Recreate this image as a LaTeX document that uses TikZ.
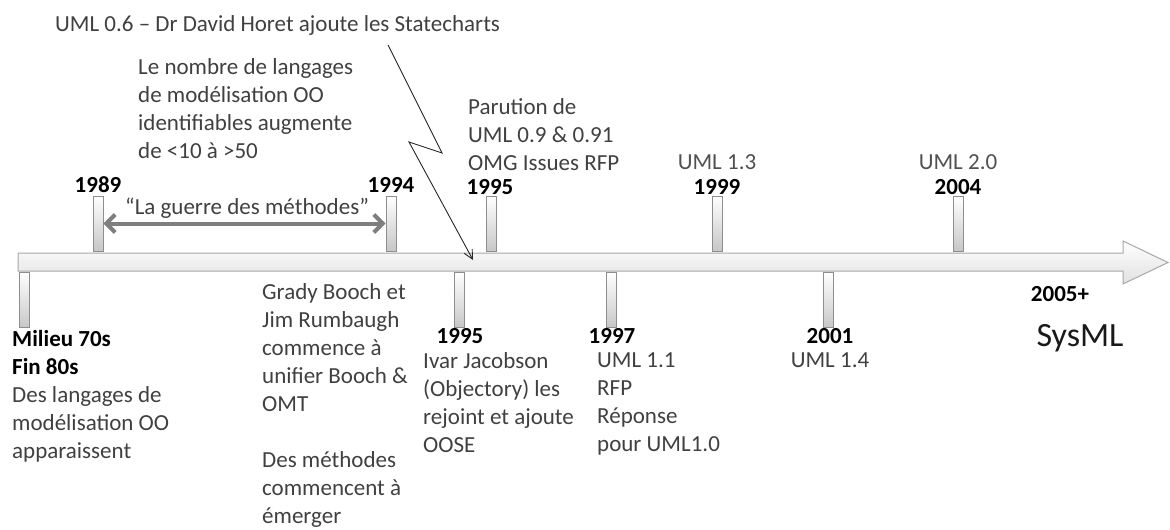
\documentclass[tikz,border=0pt]{standalone}
\usepackage{fontspec}
\setmainfont{Carlito}
\usetikzlibrary{arrows.meta}
\definecolor{txt}{HTML}{404040}
\definecolor{txtl}{HTML}{505050}
\definecolor{arrgray}{HTML}{7F7F7F}
\definecolor{edgegray}{HTML}{A8A8A8}
\definecolor{markedge}{HTML}{8E8E8E}
\begin{document}
\begin{tikzpicture}[x=1pt,y=-1pt,
  marker/.style={draw=markedge, line width=0.8pt, top color=white, bottom color=black!22,
    minimum width=10pt, minimum height=55pt, inner sep=0pt},
  body/.style={font=\fontsize{23}{28}\selectfont, text=txt, inner sep=0pt, align=left, anchor=north west},
  line1/.style={font=\fontsize{23}{28}\selectfont, text=txt, inner sep=0pt, anchor=base},
  yearlbl/.style={font=\fontsize{23}{28}\selectfont\bfseries, text=black, inner sep=0pt, anchor=base},
  warrow/.style={draw=arrgray, line width=4pt, {Straight Barb[length=9pt,width=18pt]}-{Straight Barb[length=9pt,width=18pt]}},
  zarrow/.style={draw=black!85, line width=0.9pt, -{Straight Barb[length=9pt,width=9pt]}}
]
\useasboundingbox (0,0) rectangle (1170,530);

% main timeline arrow
\shade[top color=white, bottom color=black!12, draw=edgegray, line width=1pt]
  (18,253) -- (1123,253) -- (1123,241) -- (1168,262.5) -- (1123,284) -- (1123,271) -- (18,271) -- cycle;

% markers above
\node[marker] (m1989) at (98,223.5) {};
\node[marker] (m1994) at (391,223.5) {};
\node[marker] (m1995a) at (491,223.5) {};
\node[marker] (m1999) at (717,223.5) {};
\node[marker] (m2004) at (958,223.5) {};
% markers below
\node[marker] (m1970) at (24,300) {};
\node[marker] (m1995b) at (459,300) {};
\node[marker] (m1997) at (611,300) {};
\node[marker] (m2001) at (828,300) {};

% top texts
\node[line1, anchor=base west] (t06) at (55,31.5) {UML 0.6 – Dr David Horet ajoute les Statecharts};
\node[body] (tnombre) at (138,58) {Le nombre de langages\\de modélisation OO\\identifiables augmente\\de <10 à >50};
\node[body] (tparution) at (468,98) {Parution de\\UML 0.9 \& 0.91\\OMG Issues RFP};
\node[yearlbl] (y1995a) at (490,194) {1995};
\node[yearlbl] (y1989) at (98,192) {1989};
\node[yearlbl] (y1994) at (391,192) {1994};
\node[line1, text=txtl] (uml13) at (717,169.5) {UML 1.3};
\node[yearlbl] (y1999) at (717,194) {1999};
\node[line1, text=txtl] (uml20) at (958,169.5) {UML 2.0};
\node[yearlbl] (y2004) at (958,194) {2004};
\node[line1] (guerre) at (247,214.5) {“La guerre des méthodes”};

% war arrow
\draw[warrow] (m1989.east) -- (m1994.west);

% lightning arrow
\coordinate (zs) at (388,45);
\coordinate (z1) at (442,153);
\coordinate (z2) at (409,142);
\coordinate (ze) at (473,260);
\draw[zarrow] (zs) -- (z1) -- (z2) -- (ze);

% bottom texts
\node[body] (tmilieu) at (12,330) {{\color{black}\bfseries Milieu 70s}\\{\color{black}\bfseries Fin 80s}\\Des langages de\\modélisation OO\\apparaissent};
\node[body] (tgrady) at (262,283) {Grady Booch et\\Jim Rumbaugh\\commence à\\unifier Booch \&\\OMT\\[28pt]Des méthodes\\commencent à\\émerger};
\node[yearlbl] (y1995b) at (460,343) {1995};
\node[body] (tivar) at (423,352) {Ivar Jacobson\\(Objectory) les\\rejoint et ajoute\\OOSE};
\node[yearlbl] (y1997) at (612,343) {1997};
\node[body] (tuml11) at (597,352) {UML 1.1\\RFP\\Réponse\\pour UML1.0};
\node[yearlbl] (y2001) at (830,343) {2001};
\node[line1] (uml14) at (830,367.5) {UML 1.4};
\node[yearlbl] (y2005) at (1060,301) {2005+};
\node[inner sep=0pt, anchor=base, font=\fontsize{34}{40}\selectfont, text=black!90] (sysml) at (1080,346) {SysML};
\end{tikzpicture}
\end{document}
